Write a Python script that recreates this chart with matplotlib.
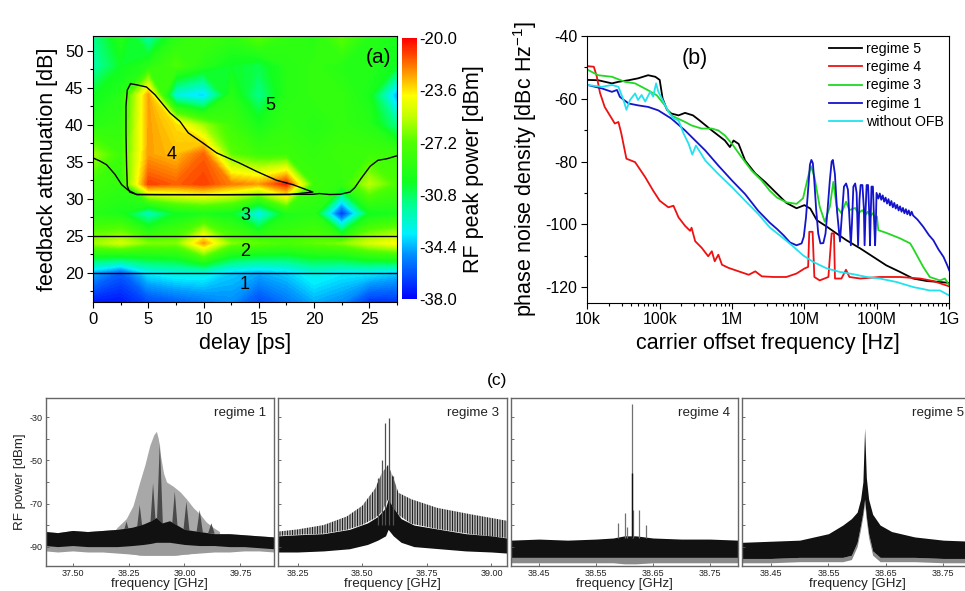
import numpy as np
import matplotlib
matplotlib.use("Agg")
import matplotlib.pyplot as plt
from matplotlib.colors import LinearSegmentedColormap, Normalize
from matplotlib.cm import ScalarMappable
from matplotlib.ticker import MultipleLocator, FixedLocator, LogLocator, NullFormatter

plt.rcParams["font.family"] = ["Liberation Sans", "DejaVu Sans"]
plt.rcParams["mathtext.default"] = "regular"
plt.rcParams["axes.unicode_minus"] = False
plt.rcParams["hatch.linewidth"] = 0.7

# ---------------- (a) RF peak power map ----------------
delay = [0, 2.5, 5, 7.5, 10, 12.5, 15, 17.5, 20, 22.5, 25, 27.5]
atten = [16, 20, 24, 28, 32, 36, 40, 44, 48, 52]
power = [
    [-37.5, -37.5, -36.5, -36, -35.5, -35, -36.5, -35.5, -34.5, -35, -37, -37],
    [-34.5, -36, -33.5, -33, -33, -34, -34.5, -34, -33, -33.5, -33.5, -34],
    [-26, -25, -26.5, -26.5, -22.5, -26.5, -27, -27.5, -27, -26.5, -25, -24],
    [-29, -29.5, -32.5, -30, -29.5, -30, -33.5, -29.5, -29, -37, -30, -29.5],
    [-28, -28.5, -21, -21.5, -21, -22, -22.5, -20.5, -28, -28.5, -25.5, -27.5],
    [-26, -28, -22.5, -23, -21.5, -27, -28, -28, -28.5, -28, -28, -28],
    [-29, -28.5, -22.5, -23.5, -26, -28, -29.5, -28.5, -29, -28.5, -29, -31.5],
    [-30, -29, -22.5, -33, -34, -29, -31.5, -29, -28.5, -28.5, -29.5, -34.5],
    [-32, -30, -29, -27.5, -29, -30, -30.5, -29, -28.5, -29, -29, -30],
    [-31.5, -29, -32, -29, -28, -28.5, -27, -28.5, -29, -27, -29, -29.5],
]
cbar_ticks = [-20.0, -23.6, -27.2, -30.8, -34.4, -38.0]

# regime 4 boundary (closed) and regime 3/5 boundary
r4_x = [3.38, 3.93, 4.83, 5.59, 6.34, 6.95, 7.85, 8.61, 9.97, 11.18, 13.29, 14.8,
        16.6, 18.1, 19.9, 17.8, 12.0, 6.0, 3.93, 3.3, 3.08, 3.02, 2.96, 2.96, 3.08, 3.38]
r4_y = [45.55, 45.4, 45.1, 44.06, 42.7, 41.6, 40.46, 38.9, 37.5, 36.2, 34.8, 33.7,
        32.5, 31.9, 30.9, 30.57, 30.55, 30.55, 30.57, 30.9, 31.7, 34.4, 38.9, 42.5, 44.7, 45.55]
b35_x = [0, 0.6, 1.2, 1.96, 2.57, 3.17, 3.93, 12.0, 19.9, 20.5, 21.4, 22.36, 23.26,
         23.7, 24.3, 25.1, 25.8, 26.6, 27.5]
b35_y = [35.5, 35.1, 34.6, 33.3, 31.9, 31.15, 30.57, 30.55, 30.6, 30.7, 30.57, 30.6,
         30.9, 31.5, 32.8, 34.4, 35.2, 35.4, 35.8]
regime_lines = [25, 20]
regime_labels = ["1", "2", "3", "4", "5"]
regime_label_x = [13.75, 13.75, 13.75, 7.1, 16.0]
regime_label_y = [18.4, 22.8, 27.7, 36.0, 42.6]

# ---------------- (b) phase noise ----------------
r5_logf = [4.0, 4.15, 4.34, 4.43, 4.57, 4.70, 4.84, 4.94, 5.0, 5.04, 5.1, 5.16, 5.26,
           5.35, 5.46, 5.55, 5.72, 5.9, 5.97, 6.02, 6.09, 6.18, 6.32, 6.46, 6.6, 6.75,
           6.89, 7.0, 7.08, 7.17, 7.31, 7.44, 7.58, 7.77, 7.95, 8.13, 8.32, 8.5, 8.69,
           8.87, 9.0]
r5_pn = [-54, -54.1, -55.1, -54.6, -54.1, -53.5, -52.5, -53, -54, -59.9, -63.5, -64.7,
         -65.3, -64.5, -65.3, -66.9, -70.1, -73.3, -75.4, -73.3, -74.4, -79.7, -83.8,
         -86.6, -89.8, -93.2, -94.9, -93.9, -95, -98.7, -100.8, -102.9, -105.1, -107.7,
         -110.4, -113.1, -115.2, -117.3, -118.1, -118.4, -118.7]

r4_logf = [4.0, 4.09, 4.13, 4.175, 4.24, 4.38, 4.43, 4.47, 4.54, 4.66, 4.80, 4.91, 5.0,
           5.12, 5.19, 5.26, 5.35, 5.42, 5.44, 5.49, 5.58, 5.67, 5.72, 5.76, 5.81, 5.86,
           5.95, 6.09, 6.23, 6.32, 6.41, 6.57, 6.75, 6.89, 7.0, 7.05, 7.066, 7.112,
           7.136, 7.21, 7.33, 7.375, 7.407, 7.421, 7.51, 7.573, 7.62, 7.77, 8.04, 8.32,
           8.6, 8.78, 9.0]
r4_pn = [-49.6, -49.8, -52.8, -58.1, -62.6, -67.9, -67.4, -71.1, -79.1, -80.2, -85,
         -89.3, -92.5, -94.6, -94.1, -97.8, -100.5, -102.1, -101.1, -105.4, -107.5,
         -110.2, -108.6, -111.8, -109.7, -112.9, -113.9, -115, -116.1, -115, -116.6,
         -116.8, -116.8, -115.7, -114.1, -113.6, -102.4, -102.4, -116.8, -117.9, -116.8,
         -102.9, -102.9, -117.3, -117.3, -114.5, -116.8, -117.3, -116.8, -116.8, -117.3,
         -118.1, -119.8]

r3_logf = [4.0, 4.15, 4.34, 4.52, 4.66, 4.84, 4.96, 5.07, 5.16, 5.35, 5.44, 5.58, 5.72,
           5.81, 5.9, 6.0, 6.13, 6.27, 6.41, 6.52, 6.62, 6.75, 6.89, 6.98, 7.05, 7.09,
           7.136, 7.21, 7.28, 7.35, 7.398, 7.444, 7.51, 7.574, 7.62, 7.70, 7.74, 7.80,
           7.84, 7.875, 7.91, 7.94, 7.98, 8.0, 8.02, 8.1, 8.18, 8.32, 8.46, 8.5, 8.64,
           8.73, 8.87, 8.94, 9.0]
r3_pn = [-50.7, -52.5, -53.0, -54.6, -55.1, -57.3, -58.9, -62.1, -65.3, -67.4, -68.5,
         -69.5, -69.5, -70.1, -71.7, -74.4, -78.6, -82.9, -86.1, -89.3, -91.5, -93,
         -93.5, -91.7, -84.8, -81.5, -84.8, -94.4, -99.2, -94.4, -86.5, -94.4, -96.5,
         -92.8, -95.5, -94.8, -96.5, -95.5, -97, -96, -97.5, -96.5, -98, -97.5, -101.9,
         -102.5, -103.2, -104.5, -106.1, -107.7, -113.6, -116.8, -117.9, -117.3, -119.5]

r1_logf = [4.0, 4.2, 4.34, 4.41, 4.45, 4.57, 4.7, 4.84, 4.98, 5.16, 5.35, 5.49, 5.63,
           5.81, 6.0, 6.18, 6.36, 6.52, 6.62, 6.71, 6.8, 6.89, 6.96, 6.99, 7.02, 7.05,
           7.075, 7.095, 7.115, 7.135, 7.16, 7.19, 7.22, 7.26, 7.29, 7.32, 7.35, 7.375,
           7.392, 7.42, 7.45, 7.49, 7.52, 7.545, 7.575, 7.60, 7.625, 7.64, 7.655, 7.675,
           7.70, 7.72, 7.74, 7.76, 7.775, 7.80, 7.82, 7.83, 7.845, 7.858, 7.878, 7.895,
           7.905, 7.915, 7.925, 7.945, 7.96, 7.975, 7.985, 7.995, 8.02, 8.04, 8.06, 8.08,
           8.10, 8.12, 8.14, 8.16, 8.18, 8.2, 8.22, 8.24, 8.26, 8.28, 8.30, 8.32, 8.34,
           8.36, 8.38, 8.40, 8.42, 8.44, 8.46, 8.48, 8.5, 8.56, 8.64, 8.72, 8.78, 8.85,
           8.92, 8.97, 9.0]
r1_pn = [-55.6, -56.7, -57.8, -57.2, -59.4, -61.5, -62.1, -62.6, -63.7, -66.3, -70.1,
         -73.3, -76.5, -81.3, -86.1, -90.4, -95.7, -99.5, -101.5, -103.5, -105.8,
         -106.7, -106.1, -104, -98, -89, -81, -79.5, -80.5, -86, -95, -103, -106.1, -106,
         -103, -95, -86, -80, -79.5, -84, -96, -105.5, -96, -88, -87, -89, -100, -106.7,
         -100, -88, -87, -90, -106.7, -92, -87.5, -87.5, -95, -106.7, -95, -87.5, -87.5,
         -97, -106.7, -97, -88, -88, -98, -106.7, -100, -90, -91.8, -90.2, -92.2, -90.8,
         -92.8, -91.5, -93.4, -92.0, -94.0, -92.6, -94.6, -93.2, -95.0, -93.8, -95.6,
         -94.3, -96.0, -94.8, -96.5, -95.2, -96.8, -95.6, -97.2, -96.0, -97.2, -98.5,
         -100.8, -103.5, -105.1, -108, -110.4, -113, -114.7]

noofb_logf = [4.0, 4.2, 4.34, 4.43, 4.5, 4.54, 4.59, 4.66, 4.7, 4.75, 4.8, 4.87, 4.91,
              4.95, 4.98, 5.04, 5.12, 5.19, 5.26, 5.33, 5.4, 5.45, 5.5, 5.63, 5.81, 6.0,
              6.18, 6.36, 6.52, 6.71, 6.85, 6.98, 7.12, 7.31, 7.49, 7.67, 7.86, 8.04,
              8.27, 8.5, 8.73, 8.87, 9.0]
noofb_pn = [-55.6, -56.2, -55.6, -56.2, -60.4, -63.5, -60.4, -58.3, -60.4, -58.8, -60.9,
            -57.7, -59.3, -55.1, -57.7, -60.4, -64.2, -66.3, -66.9, -71.1, -74.4, -77.8,
            -74.9, -79.7, -84, -88.2, -92.5, -96.7, -101, -104.5, -107.2, -109.9, -112,
            -114.1, -115.2, -115.9, -116.8, -117.3, -118.4, -120, -121.1, -121.1, -122.7]

pn_curves = [
    ("regime 5", r5_logf, r5_pn, "#000000"),
    ("regime 4", r4_logf, r4_pn, "#ee1111"),
    ("regime 3", r3_logf, r3_pn, "#22d822"),
    ("regime 1", r1_logf, r1_pn, "#1414cc"),
    ("without OFB", noofb_logf, noofb_pn, "#22e2ee"),
]
pn_ticks = [1e4, 1e5, 1e6, 1e7, 1e8, 1e9]
pn_ticklabels = ["10k", "100k", "1M", "10M", "100M", "1G"]

# ---------------- (c) RF spectra (envelopes) ----------------
# regime 1
r1_f = [37.14, 37.3, 37.5, 37.7, 37.9, 38.1, 38.3, 38.45, 38.55, 38.62, 38.7, 38.8,
        38.9, 39.0, 39.2, 39.4, 39.6, 39.8, 40.0, 40.2]
r1_top = [-83, -83.5, -82.5, -83, -82.5, -82, -81, -79.5, -78, -76.5, -79, -78, -80,
          -82, -83, -84, -84, -84.5, -85, -85.5]
r1_bot = [-89.5, -90, -89.5, -90, -90, -90, -89.5, -89, -88.5, -88, -88, -88, -88.5,
          -89, -89.5, -89.5, -90, -90, -90.5, -91]
r1_fringe = [-92, -92.5, -92, -92.5, -92.5, -93, -93.5, -94, -94, -94, -94, -94, -94,
             -93.5, -93, -92.5, -92.5, -92, -92, -92.5]
r1g_f = [38.0, 38.1, 38.22, 38.31, 38.40, 38.47, 38.535, 38.59, 38.624, 38.65, 38.67,
         38.72, 38.76, 38.85, 38.94, 39.03, 39.12, 39.21, 39.29, 39.38, 39.47]
r1g_top = [-85, -81, -77, -71, -60, -52, -43, -38, -36.5, -40, -46, -56, -60, -62,
           -64.5, -68, -72, -75, -78.5, -81, -83]
r1g_bot = [-91, -92, -93, -93.5, -94, -94, -94, -94, -94, -94, -94, -94, -94, -94,
           -93.5, -93.5, -93, -92.5, -92, -91.5, -91]
r1_peak_f = [38.223, 38.40, 38.579, 38.67, 38.87, 39.026, 39.204, 39.36]
r1_peak_h = [-78.4, -70.7, -60.5, -41.0, -64.4, -69.1, -73.0, -79.2]
r1_peak_base = -84

# regime 3
r3_f = [38.175, 38.25, 38.35, 38.45, 38.52, 38.56, 38.59, 38.60, 38.62, 38.65, 38.70,
        38.80, 38.90, 39.0, 39.06]
r3_top = [-85, -84.5, -84, -82, -79, -76, -72, -68, -72, -77, -80, -82, -84, -85, -86]
r3_bot = [-92.5, -92.5, -92, -91, -89, -87, -85, -82, -85, -88, -90, -91, -92, -92.5, -93]
r3c_f = [38.175, 38.25, 38.35, 38.44, 38.50, 38.55, 38.575, 38.60, 38.62, 38.64, 38.69,
         38.79, 38.92, 39.06]
r3c_top = [-83, -82, -80, -76, -71, -63, -56, -52, -58, -65, -68, -72, -75, -78]
r3_line_f = [38.562, 38.575, 38.588, 38.604, 38.617]
r3_line_h = [-58, -49.6, -32.5, -30.1, -57.4]
r3_line_base = -80

# regime 4
r4_f = [38.40, 38.45, 38.50, 38.55, 38.58, 38.60, 38.62, 38.65, 38.70, 38.75, 38.80]
r4_top = [-87, -86.5, -87, -86.5, -86, -85, -85, -86, -86.5, -86.5, -87]
r4_bot = [-95, -95, -95, -95, -95, -95, -95, -95, -95, -95, -95]
r4_fringe = [-97.5, -97.5, -97.5, -97.5, -97.5, -98, -98, -97.5, -97.5, -97.5, -97.5]
r4_line_f = [38.588, 38.601, 38.605, 38.613, 38.615, 38.626, 38.638]
r4_line_h = [-79.2, -74.5, -81.0, -24.0, -73.0, -73.0, -80.0]
r4_line_dark = -55.8
r4_line_base = -86

# regime 5
r5_f = [38.40, 38.45, 38.50, 38.55, 38.575, 38.59, 38.60, 38.606, 38.61, 38.613, 38.616,
        38.62, 38.627, 38.64, 38.66, 38.70, 38.75, 38.80]
r5_top = [-88, -87.5, -87, -84, -80, -77, -74, -68, -60, -35, -58, -68, -75, -80, -83,
          -85.5, -87, -87.5]
r5_bot = [-95.5, -95.5, -95, -95, -95, -94, -88, -80, -74, -68, -76, -84, -92, -95, -95,
          -95, -95.5, -95.5]
r5_fringe = [-97.5, -97.5, -97, -97, -97, -96, -90, -82, -76, -70, -78, -86, -94, -97,
             -97, -97, -97.5, -97.5]

spec_xlim = [(37.14, 40.2), (38.175, 39.06), (38.40, 38.80), (38.40, 38.80)]
spec_xticks = [[37.50, 38.25, 39.00, 39.75], [38.25, 38.50, 38.75, 39.00],
               [38.45, 38.55, 38.65, 38.75], [38.45, 38.55, 38.65, 38.75]]
spec_titles = ["regime 1", "regime 3", "regime 4", "regime 5"]

# ---------------- figure ----------------
W, H = 965, 591
fig = plt.figure(figsize=(W / 100, H / 100), dpi=100)


def px_axes(x0, y0, x1, y1):
    return fig.add_axes([x0 / W, 1 - y1 / H, (x1 - x0) / W, (y1 - y0) / H])


cmap = LinearSegmentedColormap.from_list("rfpow", [
    (0.0, "#0000ff"), (0.17, "#0090ff"), (0.25, "#00f0ff"), (0.36, "#00ff90"),
    (0.45, "#10ff20"), (0.6, "#50ff00"), (0.70, "#c0ff00"), (0.78, "#ffff00"),
    (0.89, "#ff8000"), (1.0, "#ff0000")])
norm = Normalize(-38, -20)

# (a)
ax_a = px_axes(93.3, 36, 396.7, 302.3)
X, Y = np.meshgrid(delay, atten)
ax_a.contourf(X, Y, np.array(power), levels=np.linspace(-38, -20, 91), cmap=cmap,
              norm=norm, extend="both")
ax_a.plot(r4_x, r4_y, color="k", lw=1.0)
ax_a.plot(b35_x, b35_y, color="k", lw=1.0)
for yl in regime_lines:
    ax_a.axhline(yl, color="k", lw=1.0)
for t, x, y in zip(regime_labels, regime_label_x, regime_label_y):
    ax_a.text(x, y, t, fontsize=13, ha="center", va="center")
ax_a.text(0.94, 0.92, "(a)", transform=ax_a.transAxes, fontsize=15, ha="center",
          va="center")
ax_a.set_xlim(0, 27.5)
ax_a.set_ylim(16, 52)
ax_a.xaxis.set_major_locator(MultipleLocator(5))
ax_a.xaxis.set_minor_locator(MultipleLocator(2.5))
ax_a.yaxis.set_major_locator(MultipleLocator(5))
ax_a.yaxis.set_minor_locator(MultipleLocator(2.5))
ax_a.tick_params(which="major", direction="out", length=4, width=0.8, labelsize=12, pad=3)
ax_a.tick_params(which="minor", direction="out", length=2.5, width=0.8)
ax_a.set_xlabel("delay [ps]", fontsize=15.5, labelpad=4)
ax_a.set_ylabel("feedback attenuation [dB]", fontsize=15.5, labelpad=5)

cax = px_axes(401.7, 38.3, 416.7, 299)
cb = fig.colorbar(ScalarMappable(norm=norm, cmap=cmap), cax=cax)
cb.set_ticks(cbar_ticks)
cb.set_ticklabels([f"{t:.1f}" for t in cbar_ticks])
cb.outline.set_visible(False)
cax.tick_params(length=0, labelsize=12, pad=2)
cb.set_label("RF peak power [dBm]", fontsize=15.5, labelpad=4)

# (b)
ax_b = px_axes(587.3, 36, 949.3, 302.7)
for name, lf, pn, col in pn_curves:
    ax_b.plot(10 ** np.array(lf), pn, color=col, lw=1.3, label=name)
ax_b.set_xscale("log")
ax_b.set_xlim(1e4, 1e9)
ax_b.set_ylim(-125, -40)
ax_b.set_xticks(pn_ticks)
ax_b.set_xticklabels(pn_ticklabels)
ax_b.xaxis.set_minor_locator(LogLocator(base=10, subs=np.arange(2, 10)))
ax_b.xaxis.set_minor_formatter(NullFormatter())
ax_b.yaxis.set_major_locator(MultipleLocator(20))
ax_b.yaxis.set_minor_locator(MultipleLocator(10))
ax_b.tick_params(which="major", direction="out", length=4, width=0.8, labelsize=11.5, pad=3)
ax_b.tick_params(which="minor", direction="out", length=2.5, width=0.8)
ax_b.set_xlabel("carrier offset frequency [Hz]", fontsize=15.5, labelpad=4)
ax_b.set_ylabel("phase noise density [dBc Hz$^{-1}$]", fontsize=15.5, labelpad=5)
ax_b.text(0.297, 0.915, "(b)", transform=ax_b.transAxes, fontsize=15.5, ha="center",
          va="center")
ax_b.legend(loc="upper left", bbox_to_anchor=(829 / W, 1 - 42 / H),
            bbox_transform=fig.transFigure, frameon=False, fontsize=10.2,
            borderpad=0, borderaxespad=0, handlelength=2.3, handletextpad=0.3,
            labelspacing=0.3)

# (c)
spec_px = [(45.7, 274), (278.3, 507), (510.7, 738.3), (742.3, 972)]
axs_c = [px_axes(x0, 398, x1, 566) for x0, x1 in spec_px]

ax = axs_c[0]
ax.fill_between(r1g_f, r1g_bot, r1g_top, color="#a8a8a8", lw=0)
for c, h in zip(r1_peak_f, r1_peak_h):
    ax.fill([c - 0.045, c, c + 0.045], [r1_peak_base, h, r1_peak_base], color="#4a4a4a",
            lw=0)
ax.fill_between(r1_f, r1_fringe, r1_top, color="#9a9a9a", lw=0)
ax.fill_between(r1_f, r1_bot, r1_top, color="#111111", lw=0)

ax = axs_c[1]
ax.fill_between(r3c_f, np.interp(r3c_f, r3_f, r3_top), r3c_top, facecolor="none",
                edgecolor="#1a1a1a", hatch="||||||||||", lw=0)
ax.vlines(r3_line_f, r3_line_base, r3_line_h, color="#505050", lw=0.9)
ax.fill_between(r3_f, r3_bot, r3_top, color="#111111", lw=0)

ax = axs_c[2]
ax.fill_between(r4_f, r4_fringe, r4_bot, color="#8a8a8a", lw=0)
ax.fill_between(r4_f, r4_bot, r4_top, color="#111111", lw=0)
ax.vlines(r4_line_f, r4_line_base, r4_line_h, color="#707070", lw=0.9)
ax.vlines(r4_line_f[3], r4_line_base, r4_line_dark, color="#111111", lw=1.0)

ax = axs_c[3]
ax.fill_between(r5_f, r5_fringe, r5_bot, color="#8a8a8a", lw=0)
ax.fill_between(r5_f, r5_bot, r5_top, color="#111111", lw=0)

for i, ax in enumerate(axs_c):
    ax.set_xlim(*spec_xlim[i])
    ax.set_ylim(-99, -21)
    ax.set_xticks(spec_xticks[i])
    ax.set_xticklabels([f"{t:.2f}" for t in spec_xticks[i]])
    ax.yaxis.set_major_locator(FixedLocator([-90, -70, -50, -30]))
    ax.yaxis.set_minor_locator(FixedLocator([-80, -60, -40]))
    ax.tick_params(which="both", direction="in", length=2.5, width=0.6, colors="#555555",
                   labelcolor="#222222", labelsize=6.5, pad=2.5)
    for sp in ax.spines.values():
        sp.set_color("#666666")
        sp.set_linewidth(1.0)
    ax.set_xlabel("frequency [GHz]", fontsize=9.6, labelpad=-0.5, color="#222222")
    ax.text(0.965, 0.91, spec_titles[i], transform=ax.transAxes, fontsize=9.6,
            ha="right", va="center", color="#222222")
    if i > 0:
        ax.set_yticklabels([])
axs_c[0].set_ylabel("RF power [dBm]", fontsize=9.6, labelpad=2, color="#222222")
fig.text(497 / W, 1 - 380 / H, "(c)", fontsize=12.5, ha="center", va="center")

fig.savefig("out.png", dpi=100)
